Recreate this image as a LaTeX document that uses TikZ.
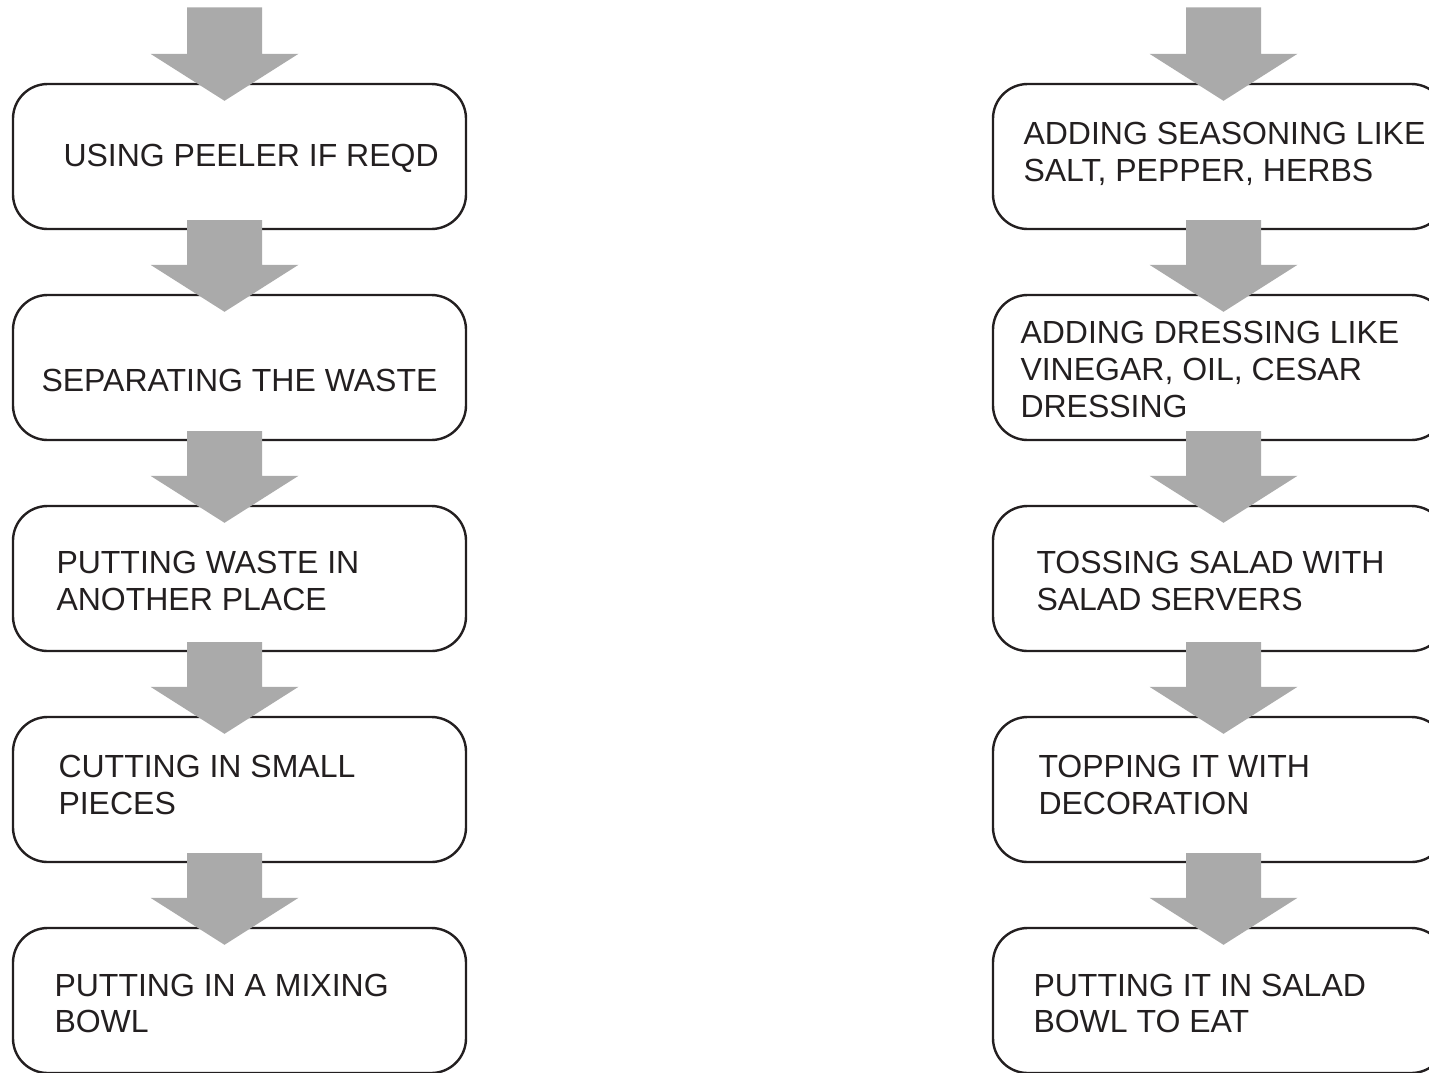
\documentclass[tikz,border=0pt]{standalone}
\usepackage{fontspec}
\setmainfont{Liberation Sans}
\usetikzlibrary{calc}
\definecolor{arrowgray}{RGB}{170,170,170}
\definecolor{inkblack}{RGB}{35,31,32}

\tikzset{every picture/.style={line width=0.75pt}}
\tikzset{
  stepbox/.style={draw=inkblack, line width=1.8pt, rounded corners=26pt, minimum width=339.75pt, minimum height=108.75pt, inner sep=0pt},
  steptext/.style={anchor=west, inner sep=0pt, align=left, text=inkblack, font=\fontsize{24}{27.5}\selectfont}
}

\begin{document}
\begin{tikzpicture}[x=0.75pt,y=0.75pt,yscale=-1,xscale=1]
\useasboundingbox (0,0) rectangle (1429,1072);

%Rounded Rect, left column
\node[stepbox] (l1) at (239.5,156.5) {};
\node[stepbox] (l2) at (239.5,367.5) {};
\node[stepbox] (l3) at (239.5,578.5) {};
\node[stepbox] (l4) at (239.5,789.5) {};
\node[stepbox] (l5) at (239.5,1000.5) {};
%Rounded Rect, right column
\node[stepbox] (r1) at (1219.5,156.5) {};
\node[stepbox] (r2) at (1219.5,367.5) {};
\node[stepbox] (r3) at (1219.5,578.5) {};
\node[stepbox] (r4) at (1219.5,789.5) {};
\node[stepbox] (r5) at (1219.5,1000.5) {};

%free ends of the first arrows
\coordinate (ltop) at (239.5,17.3);
\coordinate (rtop) at (1219.5,17.3);

%Block arrows
\foreach \from/\to/\dx in {ltop/l1/-15, l1.south/l2/-15, l2.south/l3/-15, l3.south/l4/-15, l4.south/l5/-15,
                           rtop/r1/4, r1.south/r2/4, r2.south/r3/4, r3.south/r4/4, r4.south/r5/4}
  \fill[arrowgray] ($(\from)+(\dx-37.5,-10)$) -- ($(\from)+(\dx+37.5,-10)$) -- ($(\to.north)+(\dx+37.5,-29)$)
    -- ($(\to.north)+(\dx+74,-29)$) -- ($(\to.north)+(\dx,18)$) -- ($(\to.north)+(\dx-74,-29)$)
    -- ($(\to.north)+(\dx-37.5,-29)$) -- cycle;

% Text Node
\node[steptext] (lt1) at (63,158) {USING PEELER IF REQD};
% Text Node
\node[steptext] (lt2) at (41,380) {SEPARATING THE WASTE};
% Text Node
\node[steptext] (lt3) at (56,581) {PUTTING WASTE IN\\ANOTHER PLACE};
% Text Node
\node[steptext] (lt4) at (58,785) {CUTTING IN SMALL\\PIECES};
% Text Node
\node[steptext] (lt5) at (54,1003.5) {PUTTING IN A MIXING\\BOWL};
% Text Node
\node[steptext] (rt1) at (1023,154) {ADDING SEASONING LIKE\\SALT, PEPPER, HERBS};
% Text Node
\node[steptext] (rt2) at (1020,369.5) {ADDING DRESSING LIKE\\VINEGAR, OIL, CESAR\\DRESSING};
% Text Node
\node[steptext] (rt3) at (1036,581) {TOSSING SALAD WITH\\SALAD SERVERS};
% Text Node
\node[steptext] (rt4) at (1038,785) {TOPPING IT WITH\\DECORATION};
% Text Node
\node[steptext] (rt5) at (1033,1003.5) {PUTTING IT IN SALAD\\BOWL TO EAT};

\end{tikzpicture}
\end{document}
